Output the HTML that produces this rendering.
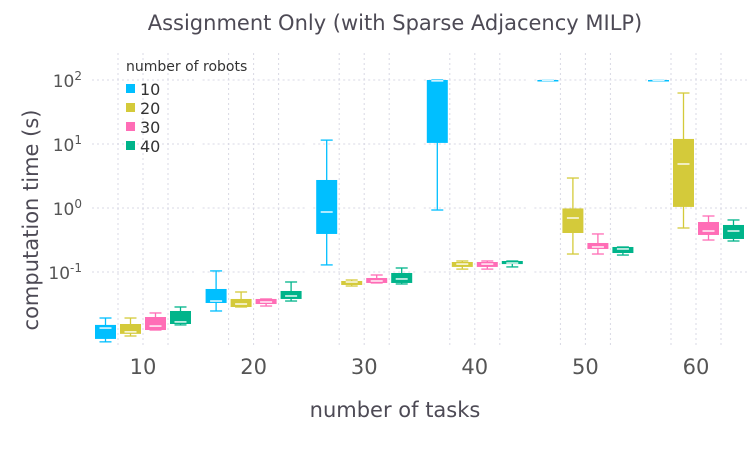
<!DOCTYPE html>
<html><head><meta charset="utf-8"><style>
html,body{margin:0;padding:0;background:#fff;}
svg{display:block;font-family:"DejaVu Sans","Liberation Sans",sans-serif;}
</style></head><body>
<svg id="chart" width="756" height="454" viewBox="0 0 756 454" xmlns="http://www.w3.org/2000/svg">
<text x="395" y="30" text-anchor="middle" font-size="21" fill="#4d4a55">Assignment Only (with Sparse Adjacency MILP)</text>
<text x="395" y="417" text-anchor="middle" font-size="21" fill="#4d4a55">number of tasks</text>
<text transform="translate(38,220) rotate(-90)" text-anchor="middle" font-size="21" fill="#4d4a55">computation time (s)</text>
<g id="grid"></g>
<g id="yticks"></g>
<g id="xticks"></g>
<g id="boxes"></g>
<g>
<text x="126" y="71" font-size="14" fill="#333">number of robots</text>
<g id="legend-entries"></g>
</g>
</svg>
<script>
const categories = ["10","20","30","40","50","60"];
const seriesNames = ["10","20","30","40"];
const colors = ["#00bfff","#d4ca3a","#ff6db6","#00b48a"];
// each box: [whiskerHigh, q3, median, q1, whiskerLow]
const series10 = [[0.0191,0.0149,0.0133,0.0090,0.0081],[0.104,0.0543,0.0352,0.0328,0.0246],[11.5,2.74,0.866,0.393,0.129],[100,100,97,10.4,0.93],[100,100,99,98,98],[100,100,99,98,98]];
const series20 = [[0.0191,0.0154,0.0116,0.0108,0.0100],[0.0487,0.0379,0.0316,0.0284,0.0284],[0.075,0.0724,0.0698,0.0627,0.0604],[0.1486,0.1433,0.133,0.12,0.111],[2.94,0.984,0.698,0.407,0.191],[62.6,12,4.87,1.04,0.487]];
const series30 = [[0.0229,0.0198,0.0143,0.0124,0.0124],[0.0379,0.0379,0.034,0.0316,0.0294],[0.0898,0.0806,0.0724,0.0674,0.0674],[0.1486,0.1433,0.133,0.12,0.111],[0.393,0.284,0.246,0.229,0.191],[0.75,0.604,0.437,0.379,0.316]];
const series40 = [[0.0284,0.0246,0.0166,0.0154,0.0149],[0.0698,0.0505,0.0422,0.0379,0.0352],[0.1155,0.0965,0.0778,0.0674,0.065],[0.1486,0.1486,0.138,0.133,0.12],[0.246,0.246,0.229,0.198,0.184],[0.65,0.543,0.437,0.328,0.305]];
const yTickExps = [2,1,0,-1];
const allSeries = [series10,series20,series30,series40];
const NS="http://www.w3.org/2000/svg";
function y(v){return 208-64*Math.log10(v);}
function xc(i){return 143+110.6*i;}
function mk(tag,attrs,parent){const e=document.createElementNS(NS,tag);for(const k in attrs)e.setAttribute(k,attrs[k]);parent.appendChild(e);return e;}
const grid=document.getElementById('grid');
categories.forEach((c,i)=>{
  const cx=xc(i);
  [-25,0,25].forEach(d=>{const l=mk('line',{x1:cx+d,x2:cx+d,y1:53,y2:348,stroke:'#d8d8e4','stroke-width':1,'stroke-dasharray':'2,3'},grid);
    
    });
  yTickExps.forEach(e=>{const l=mk('line',{x1:cx-51,x2:cx+51,y1:y(Math.pow(10,e)),y2:y(Math.pow(10,e)),stroke:'#d8d8e4','stroke-width':1,'stroke-dasharray':'2,3'},grid);
    
    });
});
const yt=document.getElementById('yticks');
yTickExps.forEach(e=>{
  const t=mk('text',{x:82,y:y(Math.pow(10,e))+7,'text-anchor':'end','font-size':17,fill:'#555'},yt);
  
  
  t.textContent='10';
  const s=mk('tspan',{dy:-7,'font-size':12},t);s.textContent=String(e);
});
const xt=document.getElementById('xticks');
categories.forEach((c,i)=>{
  const t=mk('text',{x:xc(i),y:374,'text-anchor':'middle','font-size':21,fill:'#555'},xt);
  
  
  t.textContent=c;
});
const bx=document.getElementById('boxes');
const offs=[-37.5,-12.5,12.5,37.5];
allSeries.forEach((ser,s)=>{
  ser.forEach((b,i)=>{
    const cx=xc(i)+offs[s], col=colors[s], w=21;
    const g=mk('g',{},bx);
    
    
    mk('line',{x1:cx,x2:cx,y1:y(b[0]),y2:y(b[4]),stroke:col,'stroke-width':1.3},g);
    mk('line',{x1:cx-6,x2:cx+6,y1:y(b[0]),y2:y(b[0]),stroke:col,'stroke-width':1.3},g);
    mk('line',{x1:cx-6,x2:cx+6,y1:y(b[4]),y2:y(b[4]),stroke:col,'stroke-width':1.3},g);
    const top=y(b[1]),bot=y(b[3]);
    mk('rect',{x:cx-w/2,y:top,width:w,height:Math.max(bot-top,1.5),fill:col},g);
    mk('line',{x1:cx-6,x2:cx+6,y1:y(b[2]),y2:y(b[2]),stroke:'#fff','stroke-width':1.6,opacity:0.85},g);
  });
});
const le=document.getElementById('legend-entries');
seriesNames.forEach((n,i)=>{
  const g=mk('g',{},le);
  
  
  mk('rect',{x:126,y:84+19*i,width:9,height:9,fill:colors[i]},g);
  const t=mk('text',{x:140,y:95+19*i,'font-size':16,fill:'#333'},g);t.textContent=n;
});
</script>
</body></html>
